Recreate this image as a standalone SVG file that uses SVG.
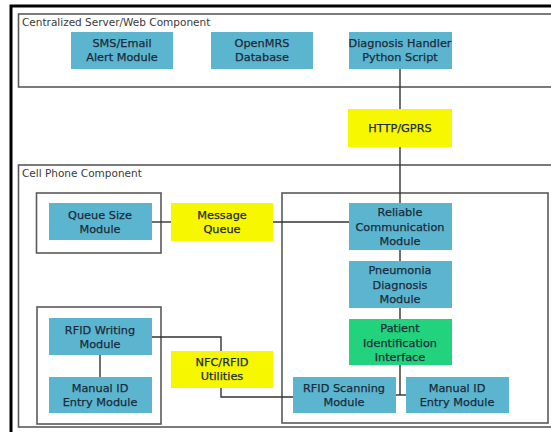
<svg xmlns="http://www.w3.org/2000/svg" width="551" height="432" viewBox="0 0 551 432">
<style>
.frame{fill:none;stroke:#000;stroke-width:3}
.grp{fill:none;stroke:#5a5a5a;stroke-width:1.6}
.blue{fill:#5bb5cf}
.yel{fill:#f7f700}
.grn{fill:#22d27c}
.t{font-family:"DejaVu Sans",Verdana,sans-serif;font-size:11.3px;fill:#1b2a3a;stroke:#1b2a3a;stroke-width:0.25;text-anchor:middle}
.title{font-family:"DejaVu Sans",Verdana,sans-serif;font-size:10.5px;fill:#3a3a3a}
.c{fill:none;stroke:#333;stroke-width:1.4}
</style>
<rect width="551" height="432" fill="#fff"/>
<path class="frame" d="M11,432 V6 H551"/>
<g id="server-component">
<rect class="grp" x="18.5" y="14" width="540" height="73"/>
<text class="title" x="22" y="26">Centralized Server/Web Component</text>
</g>
<g id="cell-component">
<rect class="grp" x="18.5" y="165" width="540" height="262"/>
<text class="title" x="22" y="177">Cell Phone Component</text>
</g>
<g id="queue-group"><rect class="grp" x="36.5" y="193" width="124.5" height="60"/></g>
<g id="rfid-group"><rect class="grp" x="37" y="307" width="124" height="117"/></g>
<g id="right-group"><rect class="grp" x="282" y="193" width="266" height="230"/></g>
<g id="connectors">
<path class="c" d="M400,69 V109"/>
<path class="c" d="M400,147 V203"/>
<path class="c" d="M152,222 H171"/>
<path class="c" d="M273,222 H349"/>
<path class="c" d="M400,250 V261"/>
<path class="c" d="M400,308 V319"/>
<path class="c" d="M400,365 V395"/>
<path class="c" d="M396,395 H406"/>
<path class="c" d="M100,355 V377"/>
<path class="c" d="M152,337 H221 V351"/>
<path class="c" d="M221,388 V397 H293"/>
</g>
<g id="sms"><rect class="blue" x="71" y="32" width="102" height="37"/><text class="t" x="122" y="47">SMS/Email</text><text class="t" x="122" y="61">Alert Module</text></g>
<g id="openmrs"><rect class="blue" x="211" y="32" width="102" height="37"/><text class="t" x="262" y="47">OpenMRS</text><text class="t" x="262" y="61">Database</text></g>
<g id="diagnosis-handler"><rect class="blue" x="349" y="32" width="103" height="37"/><text class="t" x="400" y="47">Diagnosis Handler</text><text class="t" x="400" y="61">Python Script</text></g>
<g id="http"><rect class="yel" x="348" y="109" width="104" height="38"/><text class="t" x="400" y="132">HTTP/GPRS</text></g>
<g id="queue-size"><rect class="blue" x="49" y="203" width="103" height="37"/><text class="t" x="100" y="219">Queue Size</text><text class="t" x="100" y="233">Module</text></g>
<g id="message-queue"><rect class="yel" x="171" y="203" width="102" height="38"/><text class="t" x="222" y="219">Message</text><text class="t" x="222" y="233">Queue</text></g>
<g id="reliable"><rect class="blue" x="349" y="203" width="103" height="47"/><text class="t" x="400" y="216">Reliable</text><text class="t" x="400" y="231">Communication</text><text class="t" x="400" y="245">Module</text></g>
<g id="pneumonia"><rect class="blue" x="349" y="261" width="103" height="47"/><text class="t" x="400" y="274">Pneumonia</text><text class="t" x="400" y="289">Diagnosis</text><text class="t" x="400" y="303">Module</text></g>
<g id="patient-id"><rect class="grn" x="349" y="319" width="103" height="46"/><text class="t" x="400" y="332">Patient</text><text class="t" x="400" y="347">Identification</text><text class="t" x="400" y="361">Interface</text></g>
<g id="rfid-writing"><rect class="blue" x="49" y="318" width="103" height="37"/><text class="t" x="100" y="334">RFID Writing</text><text class="t" x="100" y="348">Module</text></g>
<g id="manual-id-left"><rect class="blue" x="49" y="377" width="103" height="36"/><text class="t" x="100" y="392">Manual ID</text><text class="t" x="100" y="406">Entry Module</text></g>
<g id="nfc"><rect class="yel" x="171" y="351" width="102" height="37"/><text class="t" x="222" y="366">NFC/RFID</text><text class="t" x="222" y="380">Utilities</text></g>
<g id="rfid-scanning"><rect class="blue" x="293" y="377" width="103" height="36"/><text class="t" x="344" y="392">RFID Scanning</text><text class="t" x="344" y="406">Module</text></g>
<g id="manual-id-right"><rect class="blue" x="406" y="377" width="103" height="36"/><text class="t" x="457" y="392">Manual ID</text><text class="t" x="457" y="406">Entry Module</text></g>
</svg>
